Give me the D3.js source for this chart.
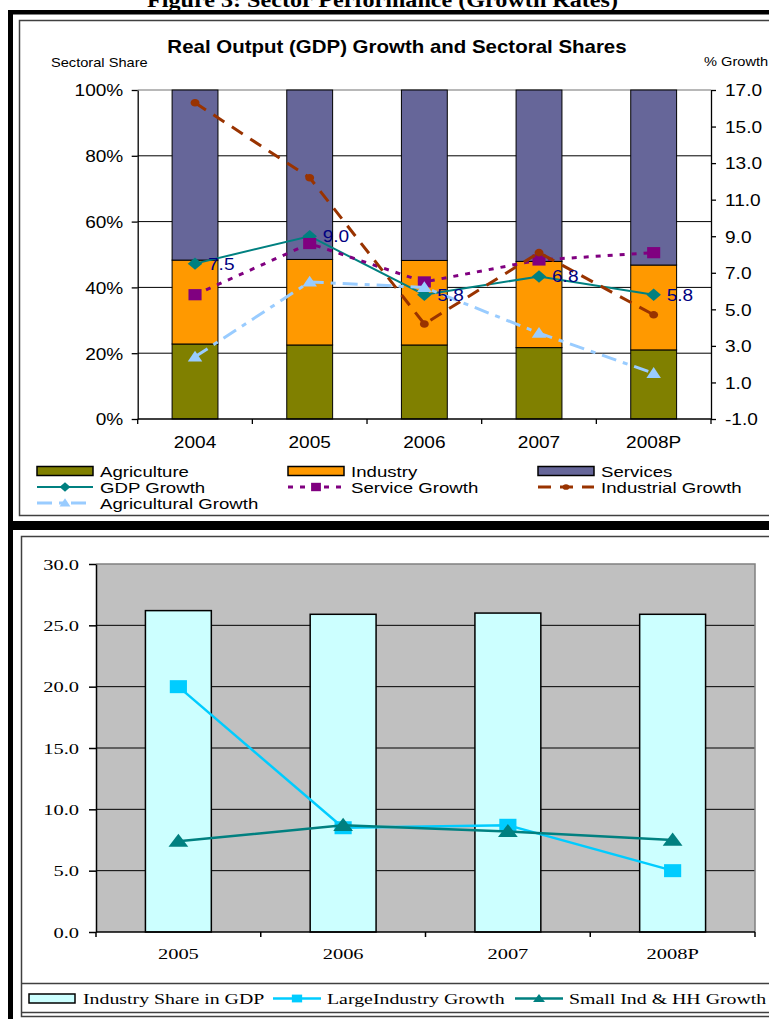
<!DOCTYPE html>
<html>
<head>
<meta charset="utf-8">
<script src="https://cdn.jsdelivr.net/npm/d3@7"></script>
<style>
  html, body { margin: 0; padding: 0; background: #fff; }
  svg { display: block; }
</style>
</head>
<body>
<svg id="fig" width="769" height="1019"></svg>
<script>
// ---- Sector shares and growth rates (upper panel) ----
const years = ["2004", "2005", "2006", "2007", "2008P"];
const agricultureShare = [22.8, 22.5, 22.5, 21.7, 21.0];
const industryShare    = [25.5, 26.0, 25.7, 26.2, 25.8];
const servicesShare    = [51.7, 51.5, 51.8, 52.1, 53.2];
const gdpGrowth          = [7.5, 9.0, 5.8, 6.8, 5.8];
const serviceGrowth      = [5.8, 8.6, 6.5, 7.7, 8.1];
const industrialGrowth   = [16.3, 12.2, 4.2, 8.1, 4.7];
const agriculturalGrowth = [2.4, 6.5, 6.2, 3.7, 1.5];
const shareTicks  = [0, 20, 40, 60, 80, 100];
const growthTicks = [-1, 1, 3, 5, 7, 9, 11, 13, 15, 17];

// ---- Industry panel (lower panel) ----
const indYears = ["2005", "2006", "2007", "2008P"];
const industryShareGDP    = [26.2, 25.9, 26.0, 25.9];
const largeIndustryGrowth = [20.0, 8.5, 8.7, 5.0];
const smallIndGrowth      = [7.4, 8.7, 8.2, 7.5];
const indTicks = [0, 5, 10, 15, 20, 25, 30];

const svg = d3.select("#fig");
const SANS = "'Liberation Sans', Arial, sans-serif";
const SERIF = "'Liberation Serif', 'Times New Roman', serif";
const sxTop = 1.17, sxLow = 1.28;
// one decimal, plain hyphen for negatives
const fmt1 = v => d3.format(".1f")(v).replace("\u2212", "-");

// text helper: widened glyphs via horizontal scale around the anchor point
function label(g, str, x, y, o) {
  return g.append("text")
    .attr("transform", `translate(${x},${y}) scale(${o.sx || 1},1)`)
    .attr("text-anchor", o.anchor || "start")
    .style("font-family", o.font)
    .style("font-size", o.size + "px")
    .style("font-weight", o.weight || "normal")
    .attr("fill", o.fill || "#000")
    .text(str);
}

// marker shapes (unit size, scaled per use)
const shapes = {
  diamond: r => `M0,${-r}L${r},0L0,${r}L${-r},0Z`,
  square: r => `M${-r},${-r}H${r}V${r}H${-r}Z`,
  triangle: r => `M0,${-r}L${r},${r * 0.75}L${-r},${r * 0.75}Z`,
  circle: r => d3.symbol(d3.symbolCircle, Math.PI * r * r)()
};

// ---------------- frames ----------------
const frame = svg.append("g");
frame.append("rect").attr("x", 8).attr("y", 10).attr("width", 770).attr("height", 4.5).attr("fill", "#000");
frame.append("rect").attr("x", 8).attr("y", 10).attr("width", 5).attr("height", 1010).attr("fill", "#000");
frame.append("rect").attr("x", 8).attr("y", 521).attr("width", 770).attr("height", 9).attr("fill", "#000");
frame.append("rect").attr("x", 19.5).attr("y", 20.5).attr("width", 770).attr("height", 495)
  .attr("fill", "none").attr("stroke", "#404040").attr("stroke-width", 1.5);
frame.append("rect").attr("x", 21.5).attr("y", 536.5).attr("width", 770).attr("height", 480)
  .attr("fill", "none").attr("stroke", "#404040").attr("stroke-width", 1.5);

label(svg, "Figure 3: Sector Performance (Growth Rates)", 382.5, 6.5,
  { font: SERIF, size: 21, weight: "bold", anchor: "middle", sx: 1.15 });

// ---------------- upper panel ----------------
const upper = svg.append("g");
const T = { left: 137.7, right: 711, top: 90, bottom: 419 };
const xT = d3.scaleBand().domain(years).range([T.left, T.right]).paddingInner(0.6).paddingOuter(0.3);
const yShare = d3.scaleLinear().domain([0, 100]).range([T.bottom, T.top]);
const yGrowth = d3.scaleLinear().domain([-1, 17]).range([T.bottom, T.top]);
const cxT = d => xT(d) + xT.bandwidth() / 2;

label(upper, "Real Output (GDP) Growth and Sectoral Shares", 397, 53,
  { font: SANS, size: 17.5, weight: "bold", anchor: "middle", sx: sxTop });
label(upper, "Sectoral Share", 51, 67, { font: SANS, size: 12.5, sx: sxTop });
label(upper, "% Growth", 704, 66, { font: SANS, size: 12.5, sx: sxTop });

// gridlines
upper.append("g").selectAll("line").data(shareTicks.filter(t => t > 0)).join("line")
  .attr("x1", T.left).attr("x2", T.right)
  .attr("y1", d => yShare(d)).attr("y2", d => yShare(d))
  .attr("stroke", d => d === 100 ? "#A0A0A0" : "#000").attr("stroke-width", d => d === 100 ? 1.5 : 1);

// stacked share bars
const shareRows = years.map((y, i) => ({
  year: y, Agriculture: agricultureShare[i], Industry: industryShare[i], Services: servicesShare[i]
}));
const shareKeys = ["Agriculture", "Industry", "Services"];
const shareColors = { Agriculture: "#808000", Industry: "#FF9900", Services: "#666699" };
const stacked = d3.stack().keys(shareKeys)(shareRows);
upper.append("g").selectAll("g").data(stacked).join("g")
  .attr("fill", s => shareColors[s.key])
  .selectAll("rect").data(s => s).join("rect")
  .attr("x", d => xT(d.data.year)).attr("width", xT.bandwidth())
  .attr("y", d => yShare(d[1])).attr("height", d => yShare(d[0]) - yShare(d[1]))
  .attr("stroke", "#000").attr("stroke-width", 1);

// axes
const axL = upper.append("g").attr("transform", `translate(${T.left},0)`)
  .call(d3.axisLeft(yShare).tickValues(shareTicks).tickFormat(d => d + "%").tickSize(6).tickSizeOuter(0));
const axR = upper.append("g").attr("transform", `translate(${T.right},0)`)
  .call(d3.axisRight(yGrowth).tickValues(growthTicks).tickFormat(fmt1).tickSize(5).tickSizeOuter(0));
[[axL, -14.4, "end"], [axR, 14, "start"]].forEach(([ax, off, anc]) => {
  ax.select(".domain").attr("stroke", "#000").attr("stroke-width", 1.3);
  ax.selectAll(".tick line").attr("stroke", "#000").attr("stroke-width", 1.3);
  ax.selectAll(".tick text").attr("x", 0).attr("dy", "0.36em")
    .attr("transform", `translate(${off},0) scale(${sxTop},1)`).attr("text-anchor", anc)
    .style("font-family", SANS).style("font-size", "16.3px").attr("fill", "#000");
});
upper.append("line").attr("x1", T.left).attr("x2", T.right).attr("y1", T.bottom).attr("y2", T.bottom)
  .attr("stroke", "#000").attr("stroke-width", 1.3);
const bT = years.map(d => cxT(d) - xT.step() / 2).concat([cxT(years[years.length - 1]) + xT.step() / 2]);
upper.append("g").selectAll("line").data(bT).join("line")
  .attr("x1", d => d).attr("x2", d => d).attr("y1", T.bottom).attr("y2", T.bottom + 5)
  .attr("stroke", "#000").attr("stroke-width", 1.3);
years.forEach(y => label(upper, y, cxT(y), 448, { font: SANS, size: 16.3, anchor: "middle", sx: sxTop }));

// growth lines
const growthSeries = [
  { name: "GDP Growth", values: gdpGrowth, color: "#008080", dash: null, w: 2, shape: "diamond", r: 6.2 },
  { name: "Service Growth", values: serviceGrowth, color: "#800080", dash: "5,7", w: 3, shape: "square", r: 5.6 },
  { name: "Industrial Growth", values: industrialGrowth, color: "#993300", dash: "13,9", w: 3, shape: "circle", r: 3.8 },
  { name: "Agricultural Growth", values: agriculturalGrowth, color: "#99CCFF", dash: "15,7,5,7", w: 3, shape: "triangle", r: 6.2 }
];
const lineT = d3.line().x((d, i) => cxT(years[i])).y(d => yGrowth(d));
growthSeries.forEach(s => {
  const g = upper.append("g");
  g.append("path").attr("d", lineT(s.values)).attr("fill", "none")
    .attr("stroke", s.color).attr("stroke-width", s.w).attr("stroke-dasharray", s.dash);
  g.selectAll("path.m").data(s.values).join("path").attr("class", "m")
    .attr("d", shapes[s.shape](s.r)).attr("fill", s.color)
    .attr("transform", (d, i) => `translate(${cxT(years[i])},${yGrowth(d)}) scale(${sxTop},1)`);
});
// GDP data labels
gdpGrowth.forEach((v, i) => label(upper, fmt1(v), cxT(years[i]) + 13, yGrowth(v) + 6,
  { font: SANS, size: 16.3, fill: "#000080", sx: sxTop }));

// upper legend
const legT = upper.append("g");
const legFont = { font: SANS, size: 14, sx: 1.33 };
const colX = [37, 288, 538], rowY = [476.5, 492.5, 508.5];
shareKeys.forEach((k, i) => {
  legT.append("rect").attr("x", colX[i]).attr("y", rowY[0] - 10).attr("width", 56).attr("height", 9)
    .attr("fill", shareColors[k]).attr("stroke", "#000").attr("stroke-width", 1.5);
  label(legT, k, colX[i] + 63, rowY[0], legFont);
});
const legPos = [[0, 1], [1, 1], [2, 1], [0, 2]];
growthSeries.forEach((s, i) => {
  const x = colX[legPos[i][0]], y = rowY[legPos[i][1]];
  legT.append("line").attr("x1", x).attr("x2", x + 56).attr("y1", y - 5.5).attr("y2", y - 5.5)
    .attr("stroke", s.color).attr("stroke-width", s.w).attr("stroke-dasharray", s.dash);
  legT.append("path").attr("d", shapes[s.shape](s.r * 0.75)).attr("fill", s.color)
    .attr("transform", `translate(${x + 28},${y - 5.5}) scale(${sxTop},1)`);
  label(legT, s.name, x + 63, y, legFont);
});

// ---------------- lower panel ----------------
const lower = svg.append("g");
const L = { left: 96, right: 755, top: 564, bottom: 932 };
const xL = d3.scaleBand().domain(indYears).range([L.left, L.right]).paddingInner(0.6).paddingOuter(0.3);
const yL = d3.scaleLinear().domain([0, 30]).range([L.bottom, L.top]);
const cxL = d => xL(d) + xL.bandwidth() / 2;

lower.append("rect").attr("x", L.left).attr("y", L.top).attr("width", L.right - L.left).attr("height", L.bottom - L.top)
  .attr("fill", "#C0C0C0");
lower.append("g").selectAll("line").data(indTicks.filter(t => t > 0 && t < 30)).join("line")
  .attr("x1", L.left).attr("x2", L.right).attr("y1", d => yL(d)).attr("y2", d => yL(d))
  .attr("stroke", "#000").attr("stroke-width", 1);
lower.append("path").attr("d", `M${L.left},${L.top}H${L.right}V${L.bottom}`)
  .attr("fill", "none").attr("stroke", "#808080").attr("stroke-width", 1.5);

lower.append("g").selectAll("rect").data(indYears).join("rect")
  .attr("x", d => xL(d)).attr("width", xL.bandwidth())
  .attr("y", (d, i) => yL(industryShareGDP[i])).attr("height", (d, i) => yL(0) - yL(industryShareGDP[i]))
  .attr("fill", "#CCFFFF").attr("stroke", "#000").attr("stroke-width", 1.5);

const axLL = lower.append("g").attr("transform", `translate(${L.left},0)`)
  .call(d3.axisLeft(yL).tickValues(indTicks).tickFormat(fmt1).tickSize(7).tickSizeOuter(0));
axLL.select(".domain").attr("stroke", "#000").attr("stroke-width", 1.5);
axLL.selectAll(".tick line").attr("stroke", "#000").attr("stroke-width", 1.5);
axLL.selectAll(".tick text").attr("x", 0).attr("dy", "0.34em")
  .attr("transform", `translate(-17,0) scale(1.32,1)`).attr("text-anchor", "end")
  .style("font-family", SERIF).style("font-size", "15.5px").attr("fill", "#000");
lower.append("line").attr("x1", L.left).attr("x2", L.right).attr("y1", L.bottom).attr("y2", L.bottom)
  .attr("stroke", "#000").attr("stroke-width", 1.5);
const bL = indYears.map(d => cxL(d) - xL.step() / 2).concat([cxL(indYears[indYears.length - 1]) + xL.step() / 2]);
lower.append("g").selectAll("line").data(bL).join("line")
  .attr("x1", d => d).attr("x2", d => d).attr("y1", L.bottom).attr("y2", L.bottom + 5)
  .attr("stroke", "#000").attr("stroke-width", 1.5);
indYears.forEach(y => label(lower, y, cxL(y), 959, { font: SERIF, size: 15.5, anchor: "middle", sx: 1.32 }));

const indSeries = [
  { name: "LargeIndustry Growth", values: largeIndustryGrowth, color: "#00CCFF", shape: "square", r: 6.5 },
  { name: "Small Ind & HH Growth", values: smallIndGrowth, color: "#008080", shape: "triangle", r: 7.5 }
];
const lineL = d3.line().x((d, i) => cxL(indYears[i])).y(d => yL(d));
indSeries.forEach(s => {
  const g = lower.append("g");
  g.append("path").attr("d", lineL(s.values)).attr("fill", "none").attr("stroke", s.color).attr("stroke-width", 2.5);
  g.selectAll("path.m").data(s.values).join("path").attr("class", "m")
    .attr("d", shapes[s.shape](s.r)).attr("fill", s.color)
    .attr("transform", (d, i) => `translate(${cxL(indYears[i])},${yL(d)}) scale(1.32,1)`);
});

// lower legend
const legL = lower.append("g");
legL.append("line").attr("x1", 22).attr("x2", 769).attr("y1", 983.5).attr("y2", 983.5).attr("stroke", "#404040").attr("stroke-width", 1.5);
legL.append("line").attr("x1", 22).attr("x2", 769).attr("y1", 1012.5).attr("y2", 1012.5).attr("stroke", "#404040").attr("stroke-width", 1.5);
legL.append("rect").attr("x", 29).attr("y", 994).attr("width", 46).attr("height", 9)
  .attr("fill", "#CCFFFF").attr("stroke", "#000").attr("stroke-width", 1.5);
const legLFont = { font: SERIF, size: 15.5, sx: sxLow };
label(legL, "Industry Share in GDP", 83, 1004, legLFont);
const legLX = [273, 515];
indSeries.forEach((s, i) => {
  const x = legLX[i];
  legL.append("line").attr("x1", x).attr("x2", x + 48).attr("y1", 998.5).attr("y2", 998.5)
    .attr("stroke", s.color).attr("stroke-width", 2.5);
  legL.append("path").attr("d", shapes[s.shape](s.r * 0.6)).attr("fill", s.color)
    .attr("transform", `translate(${x + 24},998.5) scale(1.32,1)`);
  label(legL, s.name, x + 54, 1004, legLFont);
});
</script>
</body>
</html>
